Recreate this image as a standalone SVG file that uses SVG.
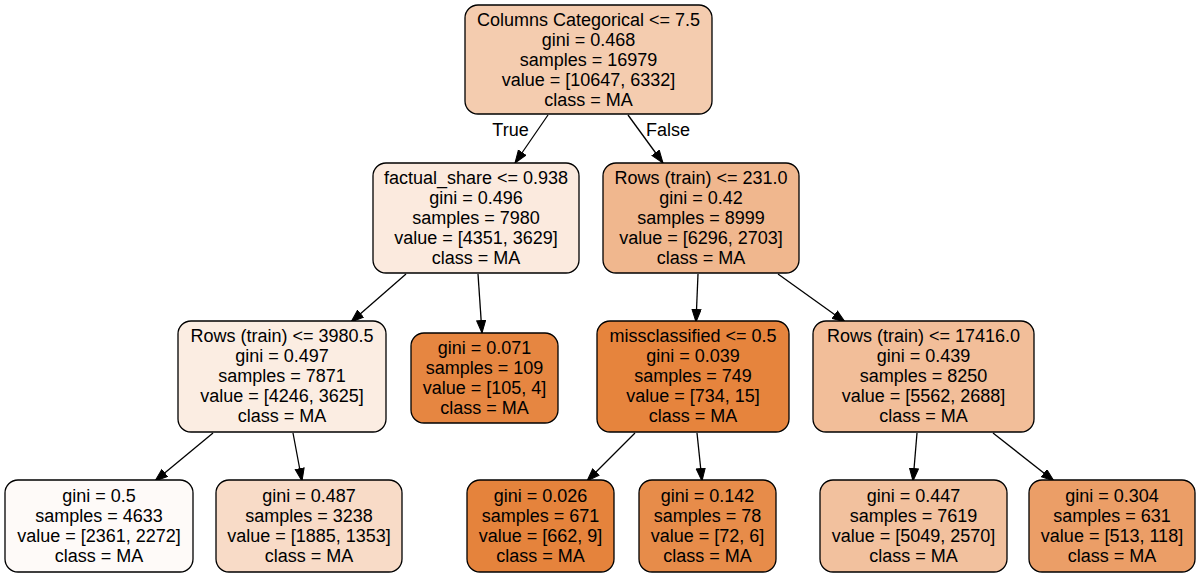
<svg xmlns="http://www.w3.org/2000/svg" width="1201" height="577" viewBox="0 0 1201 577">
<defs>
<marker id="arr" markerUnits="userSpaceOnUse" markerWidth="14" markerHeight="11" refX="13" refY="5" orient="auto">
<path d="M0.5,0.5 L13,5 L0.5,9.5 z" fill="#000" stroke="#000" stroke-width="1"/>
</marker>
<style>
.n rect{stroke:#000;stroke-width:1.3}
text{font-family:"Liberation Sans",Arial,Helvetica,sans-serif;font-size:18px;fill:#000;text-anchor:middle}
.e line{stroke:#000;stroke-width:1.3;marker-end:url(#arr)}
</style>
</defs>
<rect width="1201" height="577" fill="#fff"/>
<g id="edges" class="e">
<line x1="548" y1="115" x2="515" y2="163"/>
<line x1="628" y1="115" x2="663" y2="163"/>
<line x1="406" y1="274" x2="351" y2="322"/>
<line x1="478" y1="274" x2="482" y2="333"/>
<line x1="698" y1="274" x2="696" y2="322"/>
<line x1="778" y1="274" x2="845" y2="322"/>
<line x1="213" y1="433" x2="155" y2="481"/>
<line x1="293" y1="433" x2="302" y2="481"/>
<line x1="635" y1="433" x2="587" y2="481"/>
<line x1="697" y1="433" x2="702" y2="481"/>
<line x1="917" y1="433" x2="913" y2="481"/>
<line x1="993" y1="433" x2="1054" y2="481"/>
<text x="510.5" y="136">True</text>
<text x="668" y="136">False</text>
</g>
<g id="n0" class="n">
<rect x="465" y="5" width="247" height="109" rx="13" fill="#f4ccaf"/>
<text x="588.5" y="26">Columns Categorical &lt;= 7.5</text>
<text x="588.5" y="46">gini = 0.468</text>
<text x="588.5" y="66">samples = 16979</text>
<text x="588.5" y="86">value = [10647, 6332]</text>
<text x="588.5" y="106">class = MA</text>
</g>
<g id="n1" class="n">
<rect x="373" y="163" width="206" height="110" rx="13" fill="#fbeade"/>
<text x="476" y="184">factual_share &lt;= 0.938</text>
<text x="476" y="204">gini = 0.496</text>
<text x="476" y="224">samples = 7980</text>
<text x="476" y="244">value = [4351, 3629]</text>
<text x="476" y="264">class = MA</text>
</g>
<g id="n2" class="n">
<rect x="603" y="163" width="196" height="110" rx="13" fill="#f0b78e"/>
<text x="701" y="184">Rows (train) &lt;= 231.0</text>
<text x="701" y="204">gini = 0.42</text>
<text x="701" y="224">samples = 8999</text>
<text x="701" y="244">value = [6296, 2703]</text>
<text x="701" y="264">class = MA</text>
</g>
<g id="n3" class="n">
<rect x="178" y="321" width="208" height="111" rx="13" fill="#fbede2"/>
<text x="282" y="342">Rows (train) &lt;= 3980.5</text>
<text x="282" y="362">gini = 0.497</text>
<text x="282" y="382">samples = 7871</text>
<text x="282" y="402">value = [4246, 3625]</text>
<text x="282" y="422">class = MA</text>
</g>
<g id="n4" class="n">
<rect x="411" y="333" width="147" height="90" rx="13" fill="#e68641"/>
<text x="484.5" y="354">gini = 0.071</text>
<text x="484.5" y="374">samples = 109</text>
<text x="484.5" y="394">value = [105, 4]</text>
<text x="484.5" y="414">class = MA</text>
</g>
<g id="n5" class="n">
<rect x="597" y="321" width="192" height="111" rx="13" fill="#e6843d"/>
<text x="693" y="342">missclassified &lt;= 0.5</text>
<text x="693" y="362">gini = 0.039</text>
<text x="693" y="382">samples = 749</text>
<text x="693" y="402">value = [734, 15]</text>
<text x="693" y="422">class = MA</text>
</g>
<g id="n6" class="n">
<rect x="813" y="321" width="221" height="111" rx="13" fill="#f2be99"/>
<text x="923.5" y="342">Rows (train) &lt;= 17416.0</text>
<text x="923.5" y="362">gini = 0.439</text>
<text x="923.5" y="382">samples = 8250</text>
<text x="923.5" y="402">value = [5562, 2688]</text>
<text x="923.5" y="422">class = MA</text>
</g>
<g id="n7" class="n">
<rect x="5" y="480" width="188" height="92" rx="13" fill="#fefaf8"/>
<text x="99" y="502">gini = 0.5</text>
<text x="99" y="522">samples = 4633</text>
<text x="99" y="542">value = [2361, 2272]</text>
<text x="99" y="562">class = MA</text>
</g>
<g id="n8" class="n">
<rect x="216" y="480" width="186" height="92" rx="13" fill="#f8dbc7"/>
<text x="309" y="502">gini = 0.487</text>
<text x="309" y="522">samples = 3238</text>
<text x="309" y="542">value = [1885, 1353]</text>
<text x="309" y="562">class = MA</text>
</g>
<g id="n9" class="n">
<rect x="467" y="480" width="147" height="92" rx="13" fill="#e5833c"/>
<text x="540.5" y="502">gini = 0.026</text>
<text x="540.5" y="522">samples = 671</text>
<text x="540.5" y="542">value = [662, 9]</text>
<text x="540.5" y="562">class = MA</text>
</g>
<g id="n10" class="n">
<rect x="639" y="480" width="137" height="92" rx="13" fill="#e78c4a"/>
<text x="707.5" y="502">gini = 0.142</text>
<text x="707.5" y="522">samples = 78</text>
<text x="707.5" y="542">value = [72, 6]</text>
<text x="707.5" y="562">class = MA</text>
</g>
<g id="n11" class="n">
<rect x="820" y="480" width="187" height="92" rx="13" fill="#f2c19e"/>
<text x="913.5" y="502">gini = 0.447</text>
<text x="913.5" y="522">samples = 7619</text>
<text x="913.5" y="542">value = [5049, 2570]</text>
<text x="913.5" y="562">class = MA</text>
</g>
<g id="n12" class="n">
<rect x="1029" y="480" width="166" height="92" rx="13" fill="#eb9e67"/>
<text x="1112" y="502">gini = 0.304</text>
<text x="1112" y="522">samples = 631</text>
<text x="1112" y="542">value = [513, 118]</text>
<text x="1112" y="562">class = MA</text>
</g>
</svg>
